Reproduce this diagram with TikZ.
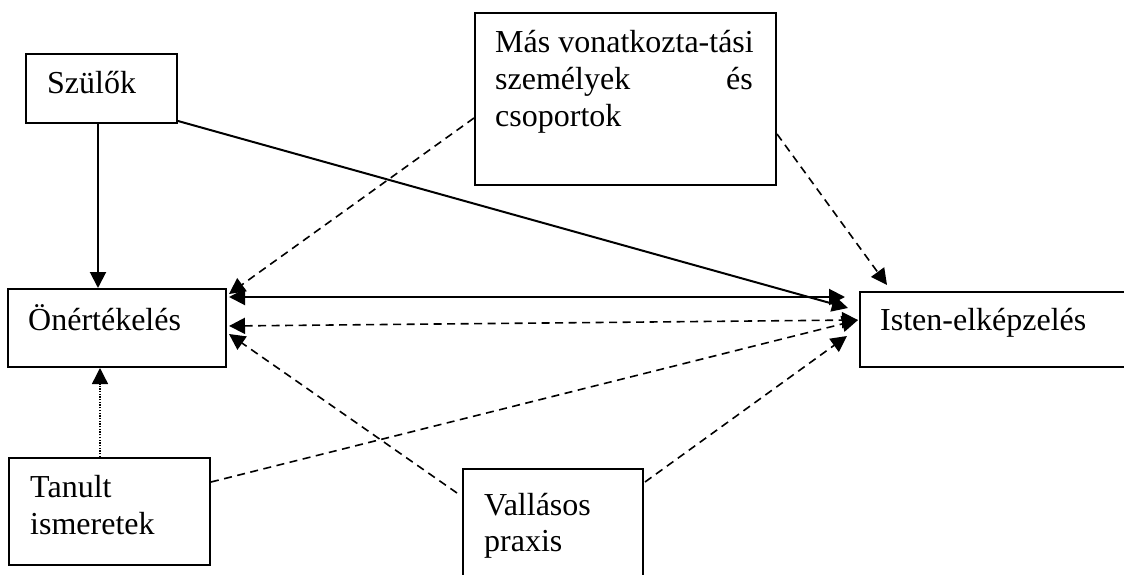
\documentclass[tikz,border=0pt]{standalone}
\usepackage{fontspec}
\setmainfont{Liberation Serif}
\usetikzlibrary{arrows.meta,calc}
\begin{document}
\begin{tikzpicture}[x=1pt,y=-1pt,
  box/.style={draw, line width=2pt, rectangle, inner sep=0pt, anchor=north west},
  lbl/.style={anchor=base west, inner sep=0pt, font=\fontsize{32}{37}\selectfont},
  tip/.style={-{Triangle[length=16pt,width=16pt]}},
  sarrow/.style={line width=2pt, tip},
  sdouble/.style={line width=2pt, {Triangle[length=16pt,width=16pt]}-{Triangle[length=16pt,width=16pt]}},
  darrow/.style={line width=1.6pt, dash pattern=on 8pt off 5.5pt, tip},
  ddouble/.style={line width=1.6pt, dash pattern=on 8pt off 5.5pt, {Triangle[length=16pt,width=16pt]}-{Triangle[length=16pt,width=16pt]}},
  dotarrow/.style={line width=1.4pt, dash pattern=on 1.3pt off 1.4pt, tip}
]
\clip (0,0) rectangle (1124,575);
\fill[white] (0,0) rectangle (1124,575);

% boxes
\node[box, minimum width=151pt, minimum height=69pt] (szulok) at (25,53) {};
\node[box, minimum width=301pt, minimum height=172pt] (mas) at (474,12) {};
\node[box, minimum width=218pt, minimum height=78pt] (onert) at (7,288) {};
\node[box, minimum width=280pt, minimum height=75pt] (isten) at (859,291) {};
\node[box, minimum width=201pt, minimum height=107pt] (tanult) at (8,457) {};
\node[box, minimum width=180pt, minimum height=130pt] (vallas) at (462,468) {};

% texts
\node[lbl] (t1) at (47,94) {Szülők};
\node[lbl] (t2a) at (495,53) {Más vonatkozta-tási};
\node[lbl] (t2b) at (495,90) {személyek};
\node[lbl, anchor=base east] (t2c) at (753,90) {és};
\node[lbl] (t2d) at (495,127) {csoportok};
\node[lbl] (t3) at (28,330) {Önértékelés};
\node[lbl] (t4) at (880,330) {Isten-elképzelés};
\node[lbl] (t5a) at (30,497) {Tanult};
\node[lbl] (t5b) at (30,534) {ismeretek};
\node[lbl] (t6a) at (484,515) {Vallásos};
\node[lbl] (t6b) at (484,551) {praxis};

% connectors
\draw[sarrow] ($(szulok.south west)+(73,0)$) -- ($(onert.north west)+(91,0)$);
\draw[sarrow] ($(szulok.south east)+(0,-3)$) -- ($(isten.north west)+(-11,17)$);
\draw[sdouble] ($(onert.north east)+(2,9)$) -- ($(isten.north west)+(-14,6)$);
\draw[darrow] ($(mas.west)+(0,19)$) -- ($(onert.north east)+(2,6)$);
\draw[darrow] ($(mas.south east)+(0,-52)$) -- ($(isten.north west)+(28,-6)$);
\draw[ddouble] ($(onert.north east)+(2,38)$) -- ($(isten.north west)+(-1,29)$);
\draw[darrow] ($(tanult.north east)+(0,25)$) -- ($(isten.north west)+(-1,29)$);
\draw[darrow] ($(vallas.north east)+(1,14)$) -- ($(isten.north west)+(-12,45)$);
\draw[darrow] ($(vallas.north west)+(-5,25)$) -- ($(onert.north east)+(2,46)$);
\draw[dotarrow] ($(tanult.north west)+(92,0)$) -- ($(onert.south west)+(93,0)$);
\end{tikzpicture}
\end{document}
